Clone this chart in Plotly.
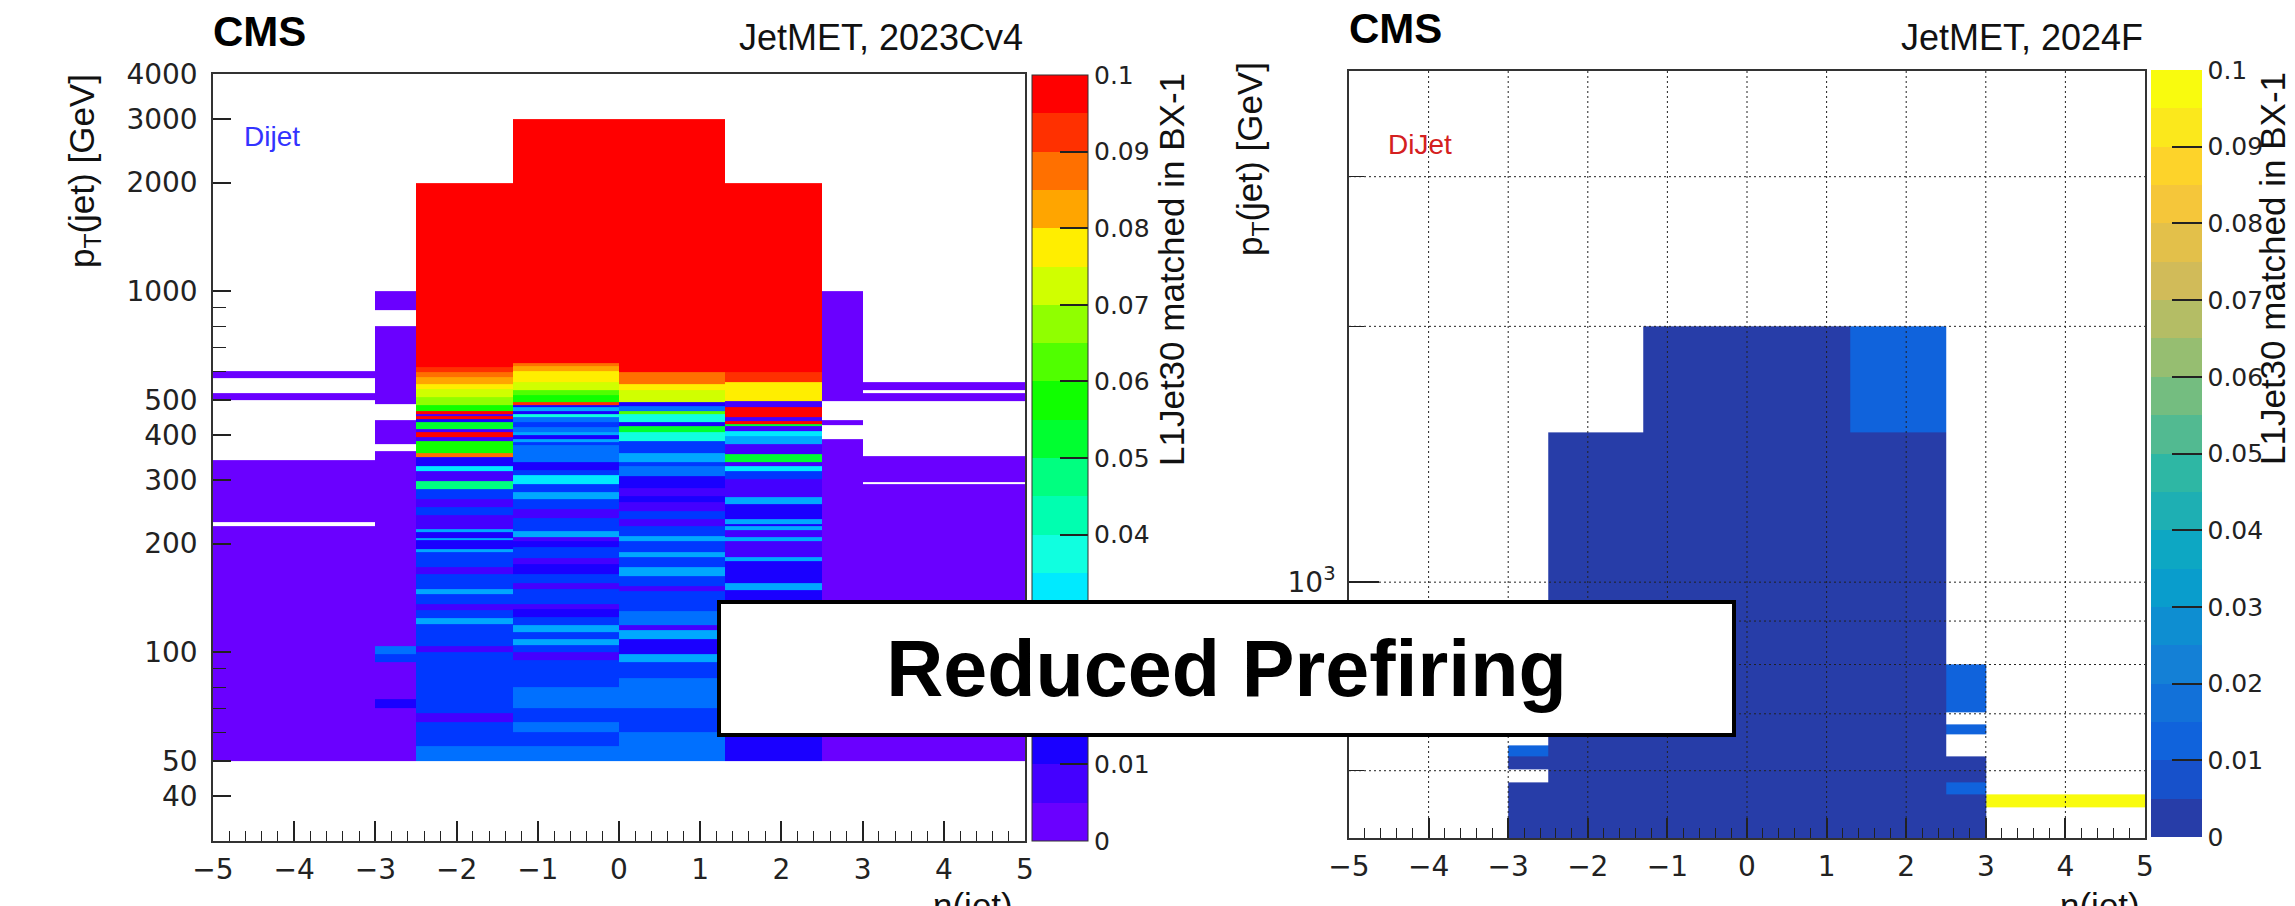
import numpy as np
import plotly.graph_objects as go

W, H = 2295, 906

# ------------------------------------------------------------------ data
# eta bin edges
eta_edges_23 = [-5, -3, -2.5, -1.3, 0, 1.3, 2.5, 3, 5]
eta_edges_24 = [-3, -2.5, -1.3, 0, 1.3, 2.5, 3, 5]

# ---- JetMET 2023Cv4 : pT bin edges [GeV] and fraction per eta column (None = empty)
c23_A_pt = [50, 224, 229, 341, 499, 521, 575, 600]
c23_A_v = [0.0025, None, 0.0025, None, 0.0025, None, 0.0025]

c23_B_pt = [50, 70, 74, 94, 99, 104, 361, 377, 440, 486, 799, 889, 1000]
c23_B_v = [0.0025, 0.0125, 0.0025, 0.0175, 0.0225, 0.0025, None, 0.0025, None,
           0.0025, None, 0.0025]

c23_C_pt = [50, 55, 64, 68, 100, 104, 120, 124, 131, 136, 145, 150, 165, 172, 190,
            193, 204, 207, 215, 219, 240, 252, 266, 283, 298, 318, 328, 347, 356,
            384, 394, 407, 415, 433, 442, 452, 458, 465, 485, 510, 535, 555, 577,
            596, 615, 2000]
c23_C_v = [0.0225, 0.0175, 0.0075, 0.0175, 0.0075, 0.0175, 0.0275, 0.0175, 0.0075,
           0.0175, 0.0275, 0.0175, 0.0075, 0.0175, 0.0275, 0.0125, 0.0275, 0.0125,
           0.0275, 0.0075, 0.0175, 0.0075, 0.0175, 0.0475, 0.0075, 0.0325, 0.0125,
           0.0875, 0.0575, 0.0075, 0.1, 0.0075, 0.0525, 0.0125, 0.1, 0.0075, 0.1,
           0.0575, 0.0675, 0.0725, 0.0775, 0.0825, 0.0875, 0.0925, 0.1]

c23_D_pt = [50, 55, 60, 64, 70, 80, 95, 100, 105, 109, 114, 119, 125, 132, 136, 150,
            155, 165, 175, 182, 195, 203, 208, 217, 235, 250, 266, 278, 292, 309,
            320, 336, 375, 382, 389, 400, 407, 420, 433, 448, 456, 467, 477, 483,
            492, 515, 534, 559, 600, 620, 633, 3000]
c23_D_v = [0.0225, 0.0175, 0.0225, 0.0175, 0.0225, 0.0175, 0.0075, 0.0175, 0.0275,
           0.0175, 0.0275, 0.0175, 0.0125, 0.0075, 0.0175, 0.0075, 0.0175, 0.0125,
           0.0075, 0.0175, 0.0125, 0.0075, 0.0275, 0.0175, 0.0075, 0.0175, 0.0275,
           0.0175, 0.0325, 0.0175, 0.0125, 0.0225, 0.0175, 0.0275, 0.0125, 0.0275,
           0.0225, 0.0175, 0.0225, 0.0375, 0.0125, 0.0275, 0.0125, 0.0925, 0.0575,
           0.0625, 0.0725, 0.0775, 0.0825, 0.0875, 0.1]

c23_E_pt = [50, 60, 70, 85, 94, 99, 109, 115, 119, 130, 148, 153, 163, 172, 184, 190,
            203, 210, 224, 234, 246, 260, 270, 285, 307, 328, 336, 357, 384, 407,
            423, 434, 456, 465, 481, 492, 534, 552, 596, 3000]
c23_E_v = [0.0225, 0.0175, 0.0225, 0.0175, 0.0275, 0.0125, 0.0275, 0.0075, 0.0225,
           0.0175, 0.0075, 0.0175, 0.0275, 0.0175, 0.0275, 0.0175, 0.0275, 0.0175,
           0.0075, 0.0175, 0.0075, 0.0125, 0.0075, 0.0125, 0.0225, 0.0175, 0.0275,
           0.0175, 0.0375, 0.0525, 0.0125, 0.0375, 0.0625, 0.0225, 0.0125, 0.0725,
           0.0775, 0.0875, 0.1]

c23_F_pt = [50, 149, 155, 179, 184, 203, 208, 218, 224, 227, 234, 257, 269, 302, 317,
            328, 336, 354, 377, 398, 411, 422, 428, 438, 447, 477, 495, 559, 596, 2000]
c23_F_v = [0.0125, 0.0275, 0.0125, 0.0275, 0.0075, 0.0275, 0.0075, 0.0275, 0.0125,
           0.0275, 0.0125, 0.0275, 0.0075, 0.0175, 0.0325, 0.0075, 0.0525, 0.0075,
           0.0275, 0.0325, 0.0075, 0.0525, 0.1, 0.0075, 0.1, 0.0075, 0.0775, 0.0925,
           0.1]

c23_G_pt = [50, 389, 426, 440, 496, 1000]
c23_G_v = [0.0025, None, 0.0025, None, 0.0025]

c23_H_pt = [50, 293, 297, 350, 496, 521, 534, 560]
c23_H_v = [0.0025, None, 0.0025, None, 0.0025, None, 0.0025]

cols_23 = [(c23_A_pt, c23_A_v), (c23_B_pt, c23_B_v), (c23_C_pt, c23_C_v),
           (c23_D_pt, c23_D_v), (c23_E_pt, c23_E_v), (c23_F_pt, c23_F_v),
           (c23_G_pt, c23_G_v), (c23_H_pt, c23_H_v)]

# ---- JetMET 2024F
c24_1_pt = [500, 582, 602, 623, 643]
c24_1_v = [0.0025, None, 0.0025, 0.0125]
c24_2_pt = [500, 1500]
c24_2_v = [0.0025]
c24_3_pt = [500, 2000]
c24_3_v = [0.0025]
c24_4_pt = [500, 2000]
c24_4_v = [0.0025]
c24_5_pt = [500, 1500, 2000]
c24_5_v = [0.0025, 0.0125]
c24_6_pt = [500, 563, 582, 623, 663, 680, 702, 800]
c24_6_v = [0.0025, 0.0125, 0.0025, None, 0.0125, None, 0.0125]
c24_7_pt = [544, 563]
c24_7_v = [0.1]

cols_24 = [(c24_1_pt, c24_1_v), (c24_2_pt, c24_2_v), (c24_3_pt, c24_3_v),
           (c24_4_pt, c24_4_v), (c24_5_pt, c24_5_v), (c24_6_pt, c24_6_v),
           (c24_7_pt, c24_7_v)]

# tick labels
y23_ticks = [40, 50, 100, 200, 300, 400, 500, 1000, 2000, 3000, 4000]
y23_minor = [60, 70, 80, 90, 600, 700, 800, 900]
y24_ticks = [1000]
y24_ticktext = ["10<sup>3</sup>"]
y24_minor = [600, 700, 800, 900, 2000, 3000]
y24_grid = [600, 700, 800, 900, 1000, 2000, 3000]
x24_grid = [-4, -3, -2, -1, 0, 1, 2, 3, 4]
cb_ticks = [0, 0.01, 0.02, 0.03, 0.04, 0.05, 0.06, 0.07, 0.08, 0.09, 0.1]
cb_ticktext = ["0", "0.01", "0.02", "0.03", "0.04", "0.05", "0.06", "0.07",
               "0.08", "0.09", "0.1"]

# ------------------------------------------------------------------ palettes
NLEV = 20
RAINBOW = ["#6a00ff", "#4400ff", "#1a00ff", "#0038ff", "#0070ff", "#00a8ff",
           "#00eaff", "#10ffe0", "#00ffb0", "#00ff80", "#00ff30", "#10ff00",
           "#50ff00", "#90ff00", "#d0ff00", "#ffee00", "#ffa500", "#ff7000",
           "#ff3000", "#ff0000"]

bird_stops = np.linspace(0, 1, 9)
bird_r = [0.2082, 0.0592, 0.0780, 0.0232, 0.1802, 0.5301, 0.8186, 0.9956, 0.9764]
bird_g = [0.1664, 0.3599, 0.5041, 0.6419, 0.7178, 0.7492, 0.7328, 0.7862, 0.9832]
bird_b = [0.5293, 0.8684, 0.8385, 0.7914, 0.6425, 0.4662, 0.3499, 0.1968, 0.0539]
BIRD = []
for i in range(NLEV):
    f = min(int((i + 0.99) * 255 / NLEV) / 254.0, 1.0)
    rr = np.interp(f, bird_stops, bird_r)
    gg = np.interp(f, bird_stops, bird_g)
    bb = np.interp(f, bird_stops, bird_b)
    BIRD.append("rgb(%d,%d,%d)" % (round(rr * 255), round(gg * 255), round(bb * 255)))


def stepped(colors):
    cs = []
    n = len(colors)
    for i, c in enumerate(colors):
        cs.append([i / n, c])
        cs.append([(i + 1) / n, c])
    return cs


def build_grid(cols):
    """Common pT edges for all eta columns and the matching z matrix."""
    edges = sorted(set(e for pts, _ in cols for e in pts))
    z = [[None] * len(cols) for _ in range(len(edges) - 1)]
    for j, (pts, vals) in enumerate(cols):
        for k, v in enumerate(vals):
            lo, hi = pts[k], pts[k + 1]
            for r in range(len(edges) - 1):
                if edges[r] >= lo and edges[r + 1] <= hi:
                    z[r][j] = v
    return edges, z


def px(x):
    return x / W


def py(y):
    return 1 - y / H


# ------------------------------------------------------------------ figure
fig = go.Figure()

pt23, z23 = build_grid(cols_23)
pt24, z24 = build_grid(cols_24)

fig.add_trace(go.Heatmap(x=eta_edges_23, y=pt23, z=z23, coloraxis="coloraxis",
                         xaxis="x", yaxis="y", hoverinfo="skip"))
fig.add_trace(go.Heatmap(x=eta_edges_24, y=pt24, z=z24, coloraxis="coloraxis2",
                         xaxis="x2", yaxis="y2", hoverinfo="skip"))

TICKFONT = dict(family="DejaVu Sans", size=28, color="#222")
LINEC = "#333"

xcommon = dict(range=[-5, 5], tickmode="linear", tick0=-5, dtick=1,
               ticks="inside", ticklen=20, tickwidth=1.5, tickcolor="#222",
               minor=dict(dtick=0.2, ticks="inside", ticklen=10, tickwidth=1.2,
                          tickcolor="#222", showgrid=False),
               showline=True, mirror=True, linecolor=LINEC, linewidth=1.5,
               showgrid=False, zeroline=False, tickfont=TICKFONT,
               ticklabelstandoff=3)

fig.update_layout(
    width=W, height=H,
    margin=dict(l=0, r=0, t=0, b=0, pad=0, autoexpand=False),
    paper_bgcolor="white", plot_bgcolor="white", showlegend=False,
    xaxis=dict(domain=[px(213), px(1025)], anchor="y", **xcommon),
    yaxis=dict(domain=[py(841), py(74)], anchor="x", type="log",
               range=[np.log10(30), np.log10(4000)],
               tickmode="array", tickvals=y23_ticks,
               ticktext=[str(t) for t in y23_ticks],
               ticks="inside", ticklen=18, tickwidth=1.5, tickcolor="#222",
               minor=dict(tickmode="array", tickvals=y23_minor, ticks="inside",
                          ticklen=13, tickwidth=1.2, tickcolor="#222"),
               showline=True, mirror=True, linecolor=LINEC, linewidth=1.5,
               showgrid=False, zeroline=False, tickfont=TICKFONT,
               ticklabelstandoff=8),
    xaxis2=dict(domain=[px(1349), px(2145)], anchor="y2", **xcommon),
    yaxis2=dict(domain=[py(838), py(70.5)], anchor="x2", type="log",
                range=[np.log10(500), np.log10(4000)],
                tickmode="array", tickvals=y24_ticks, ticktext=y24_ticktext,
                ticks="inside", ticklen=30, tickwidth=1.5, tickcolor="#222",
                minor=dict(tickmode="array", tickvals=y24_minor, ticks="inside",
                           ticklen=15, tickwidth=1.2, tickcolor="#222"),
                showline=True, mirror=True, linecolor=LINEC, linewidth=1.5,
                showgrid=False, zeroline=False, tickfont=TICKFONT,
                ticklabelstandoff=6),
    coloraxis=dict(
        colorscale=stepped(RAINBOW), cmin=0, cmax=0.1,
        colorbar=dict(x=px(1032), xanchor="left", y=py(841), yanchor="bottom",
                      len=(841 - 75) / H, lenmode="fraction", thickness=56,
                      thicknessmode="pixels", xpad=0, ypad=0, outlinewidth=1,
                      outlinecolor=LINEC, ticks="inside", ticklen=28,
                      tickwidth=1.5, tickcolor="#222", tickmode="array",
                      tickvals=cb_ticks, ticktext=cb_ticktext,
                      tickfont=dict(family="DejaVu Sans", size=25, color="#222"))),
    coloraxis2=dict(
        colorscale=stepped(BIRD), cmin=0, cmax=0.1,
        colorbar=dict(x=px(2151), xanchor="left", y=py(837), yanchor="bottom",
                      len=(837 - 70.5) / H, lenmode="fraction", thickness=51,
                      thicknessmode="pixels", xpad=0, ypad=0, outlinewidth=0,
                      ticks="inside", ticklen=30,
                      tickwidth=1.5, tickcolor="#222", tickmode="array",
                      tickvals=cb_ticks, ticktext=cb_ticktext,
                      tickfont=dict(family="DejaVu Sans", size=25, color="#222"))),
)

# dotted grid of the 2024F panel (drawn above the bins, as in ROOT)
for gx in x24_grid:
    fig.add_shape(type="line", xref="x2", yref="y2 domain", x0=gx, x1=gx, y0=0, y1=1,
                  line=dict(color="#222", width=1, dash="2px,3px"), layer="above")
for gy in y24_grid:
    fig.add_shape(type="line", xref="x2 domain", yref="y2", x0=0, x1=1, y0=gy, y1=gy,
                  line=dict(color="#222", width=1, dash="2px,3px"), layer="above")

SANS = "Liberation Sans"


def note(text, x, y, size, xanchor="left", yanchor="middle", color="#111",
         angle=0, family=SANS):
    fig.add_annotation(text=text, x=px(x), y=py(y), xref="paper", yref="paper",
                       xanchor=xanchor, yanchor=yanchor, showarrow=False,
                       textangle=angle, font=dict(family=family, size=size, color=color))


# left panel texts
note("<b>CMS</b>", 211, 32, 42, color="#000")
note("JetMET, 2023Cv4", 1025, 38, 36, xanchor="right")
note("Dijet", 242, 136, 28, color="#3333ff")
note("p<sub>T</sub>(jet) [GeV]", 84, 171, 35, xanchor="center", angle=-90)
note("L1Jet30 matched in BX-1", 1172, 270, 35, xanchor="center", angle=-90)
note("η(jet)", 1015, 884, 35, xanchor="right", yanchor="top")

# right panel texts
note("<b>CMS</b>", 1347, 28, 42, color="#000")
note("JetMET, 2024F", 2145, 38, 36, xanchor="right")
note("DiJet", 1386, 144, 28, color="#d42020")
note("p<sub>T</sub>(jet) [GeV]", 1252, 159, 35, xanchor="center", angle=-90)
note("L1Jet30 matched in BX-1", 2272, 269, 35, xanchor="center", angle=-90)
note("η(jet)", 2142, 884, 35, xanchor="right", yanchor="top")

# overlay box
fig.add_annotation(text="<b>Reduced Prefiring</b>", x=px(1226.5), y=py(668.5),
                   xref="paper", yref="paper", xanchor="center", yanchor="middle",
                   showarrow=False, width=1011, height=129, bgcolor="white",
                   bordercolor="black", borderwidth=4, borderpad=0,
                   font=dict(family=SANS, size=79, color="#000"))

fig.write_html("out.html")
